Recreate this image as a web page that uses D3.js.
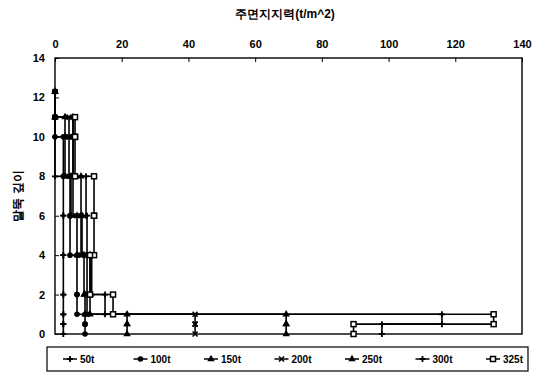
<!DOCTYPE html>
<html>
<head>
<meta charset="utf-8">
<script src="https://cdn.jsdelivr.net/npm/d3@7"></script>
<style>
  body { margin: 0; background: #fff; }
  svg { font-family: "Liberation Sans", Arial, sans-serif; }
  text { fill: #000; }
</style>
</head>
<body>
<svg id="chart" width="540" height="378"></svg>
<script>
// layer boundaries (depth top, depth bottom)
var layerTop    = [12.3, 11, 10, 8, 6, 4, 2, 1, 0.5];
var layerBottom = [11, 10, 8, 6, 4, 2, 1, 0.5, 0];

var loads = ["50t", "100t", "150t", "200t", "250t", "300t", "325t"];

// skin friction per layer for each load (null = no point)
var f50  = [0, 0, 0, 2.5, 2.5, 2.5, 2.5, 2.5, 2.5];
var f100 = [0, 0, 2.5, 4.5, 4.5, 6.6, 6.6, 9.0, 9.0];
var f150 = [0, 3.0, 3.0, 4.8, 6.6, 8.7, 9.0, 21.6, 21.6];
var f200 = [0, 4.2, 4.2, 5.4, 7.8, 9.6, 9.6, 42, 42];
var f250 = [0, 5.4, 5.4, 7.8, 8.1, 10.5, 10.5, 69.3, 69.3];
var f300 = [0, 5.4, 5.4, 9.3, 9.6, 11.0, 15.0, 116, 98];
var f325 = [null, 6.0, 6.0, 11.7, 11.7, 10.5, 17.4, 131.5, 89.5];

var xTicks = [0, 20, 40, 60, 80, 100, 120, 140];
var yTicks = [0, 2, 4, 6, 8, 10, 12, 14];

var series = [f50, f100, f150, f200, f250, f300, f325];
var markers = ["plus", "circle", "triangle", "cross", "triangle", "plus", "square"];

var svg = d3.select("#chart");

var x = d3.scaleLinear().domain([0, 140]).range([55, 522]);
var y = d3.scaleLinear().domain([0, 14]).range([334, 58]);

// frame
svg.append("rect")
  .attr("x", x(0)).attr("y", y(14))
  .attr("width", x(140) - x(0)).attr("height", y(0) - y(14))
  .attr("fill", "none").attr("stroke", "#000").attr("stroke-width", 1.4);

// top axis
var xAxis = svg.append("g")
  .attr("transform", "translate(0," + y(14) + ")")
  .call(d3.axisTop(x).tickValues(xTicks).tickSize(-4).tickPadding(10));
xAxis.select(".domain").remove();

// left axis
var yAxis = svg.append("g")
  .attr("transform", "translate(" + x(0) + ",0)")
  .call(d3.axisLeft(y).tickValues(yTicks).tickSize(-4).tickPadding(10));
yAxis.select(".domain").remove();

svg.selectAll(".tick text")
  .attr("font-size", "11px")
  .attr("font-weight", "bold")
  .attr("fill", "#000");
svg.selectAll(".tick line").attr("stroke", "#000");

// titles
svg.append("text")
  .attr("x", 285).attr("y", 18)
  .attr("text-anchor", "middle")
  .attr("fill", "#000")
  .attr("font-size", "12px").attr("font-weight", "bold")
  .text("주면지지력(t/m^2)");

svg.append("text")
  .attr("transform", "translate(22," + y(7) + ") rotate(-90)")
  .attr("text-anchor", "middle")
  .attr("fill", "#000")
  .attr("font-size", "12px").attr("font-weight", "bold")
  .text("말뚝 깊이");

function toPoints(vals) {
  var pts = [];
  vals.forEach(function(v, i) {
    if (v == null) return;
    pts.push([v, layerTop[i]]);
    pts.push([v, layerBottom[i]]);
  });
  return pts;
}

function drawMarker(g, type, cx, cy) {
  if (type == "circle") {
    g.append("circle").attr("cx", cx).attr("cy", cy).attr("r", 2.8).attr("fill", "#000");
  } else if (type == "triangle") {
    g.append("path")
      .attr("d", d3.symbol().type(d3.symbolTriangle).size(24)())
      .attr("transform", "translate(" + cx + "," + cy + ")")
      .attr("fill", "#000");
  } else if (type == "square") {
    g.append("rect").attr("x", cx - 2.5).attr("y", cy - 2.5)
      .attr("width", 5).attr("height", 5)
      .attr("fill", "#fff").attr("stroke", "#000").attr("stroke-width", 1.5);
  } else if (type == "cross") {
    g.append("path")
      .attr("d", "M" + (cx - 2.5) + "," + (cy - 2.5) + "L" + (cx + 2.5) + "," + (cy + 2.5) +
                 "M" + (cx - 2.5) + "," + (cy + 2.5) + "L" + (cx + 2.5) + "," + (cy - 2.5))
      .attr("stroke", "#000").attr("stroke-width", 1.6);
  } else {
    g.append("path")
      .attr("d", "M" + (cx - 3) + "," + cy + "L" + (cx + 3) + "," + cy +
                 "M" + cx + "," + (cy - 3) + "L" + cx + "," + (cy + 3))
      .attr("stroke", "#000").attr("stroke-width", 1.8);
  }
}

var line = d3.line()
  .x(function(d) { return x(d[0]); })
  .y(function(d) { return y(d[1]); });

series.forEach(function(vals, i) {
  var pts = toPoints(vals);
  var g = svg.append("g").attr("class", "series");
  g.append("path")
    .attr("d", line(pts))
    .attr("fill", "none")
    .attr("stroke", "#000")
    .attr("stroke-width", 1.6);
  pts.forEach(function(p) {
    drawMarker(g, markers[i], x(p[0]), y(p[1]));
  });
});

// legend
var legend = svg.append("g");
legend.append("rect")
  .attr("x", 47).attr("y", 347)
  .attr("width", 481).attr("height", 24)
  .attr("fill", "#fff").attr("stroke", "#000").attr("stroke-width", 1.2);

loads.forEach(function(name, i) {
  var lx = 63 + i * 70.5;
  var ly = 359;
  var g = legend.append("g");
  g.append("line")
    .attr("x1", lx).attr("x2", lx + 14)
    .attr("y1", ly).attr("y2", ly)
    .attr("stroke", "#000").attr("stroke-width", 1.5);
  drawMarker(g, markers[i], lx + 7, ly);
  g.append("text")
    .attr("x", lx + 17).attr("y", ly + 4)
    .attr("fill", "#000")
    .attr("font-size", "10px").attr("font-weight", "bold")
    .text(name);
});
</script>
</body>
</html>
